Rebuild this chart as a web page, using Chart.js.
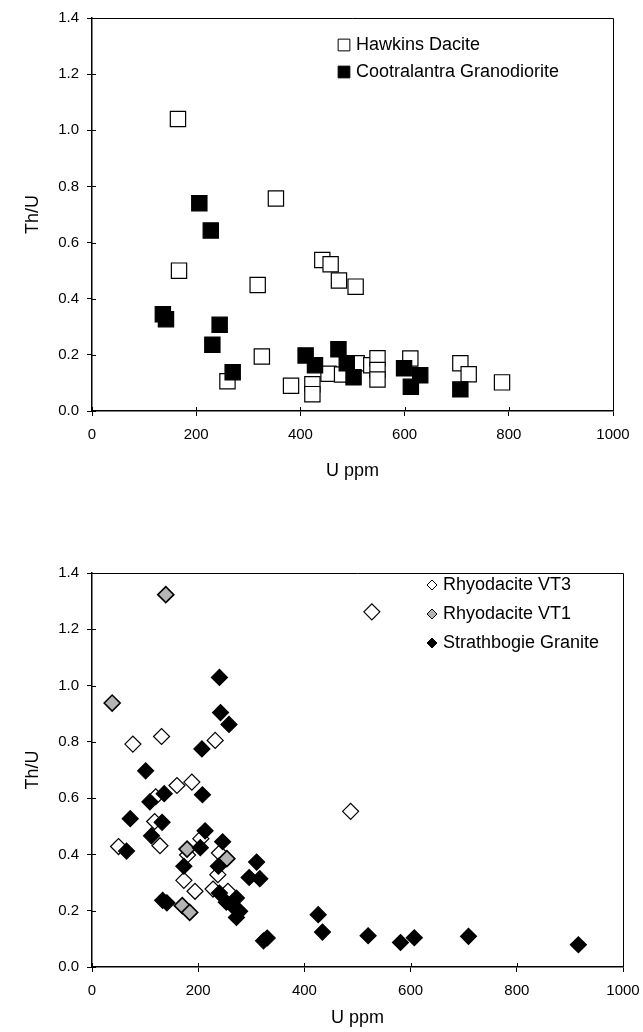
<!DOCTYPE html>
<html>
<head>
<meta charset="utf-8">
<script src="https://cdn.jsdelivr.net/npm/chart.js@4.4.0/dist/chart.umd.min.js"></script>
<style>
  html,body{margin:0;padding:0;background:#fff;}
  #wrap{position:relative;width:643px;height:1032px;overflow:hidden;}
  canvas{position:absolute;left:0;}
  #c1{top:0;}
  #c2{top:510px;}
</style>
</head>
<body>
<div id="wrap">
<canvas id="c1" width="643" height="510"></canvas>
<canvas id="c2" width="643" height="522"></canvas>
</div>
<script>
// ---------- DATA ----------
const xTicks = [0, 200, 400, 600, 800, 1000];
const yTicks = [0.0, 0.2, 0.4, 0.6, 0.8, 1.0, 1.2, 1.4];

// Top chart
const hawkinsU   = [165, 167, 353, 318, 442, 458, 474, 506, 326, 260, 382, 423, 423, 454, 480, 508, 536, 548, 548, 548, 611, 707, 723, 787];
const hawkinsThU = [1.04, 0.50, 0.757, 0.449, 0.538, 0.523, 0.465, 0.443, 0.194, 0.106, 0.090, 0.095, 0.060, 0.133, 0.130, 0.170, 0.163, 0.188, 0.146, 0.112, 0.187, 0.170, 0.131, 0.102];

const cootU   = [206, 228, 136, 142, 245, 231, 270, 410, 428, 473, 489, 502, 599, 630, 612, 707];
const cootThU = [0.74, 0.643, 0.345, 0.327, 0.307, 0.236, 0.138, 0.198, 0.163, 0.220, 0.170, 0.120, 0.152, 0.127, 0.086, 0.077];

// Bottom chart
const vt3U   = [527, 77, 131, 232, 160, 188, 120, 118, 128, 50, 205, 240, 237, 173, 194, 228, 256, 487, 180];
const vt3ThU = [1.262, 0.792, 0.819, 0.805, 0.645, 0.657, 0.605, 0.517, 0.431, 0.428, 0.456, 0.405, 0.328, 0.308, 0.269, 0.277, 0.269, 0.553, 0.398];

const vt1U   = [139, 38, 179, 254, 170, 184];
const vt1ThU = [1.323, 0.938, 0.419, 0.385, 0.218, 0.194];

const strathU   = [240, 242, 258, 207, 101, 208, 109, 136, 72, 132, 112, 65, 213, 204, 246, 238, 173, 310, 296, 316, 133, 141, 240, 253, 272, 266, 278, 272, 323, 330, 426, 434, 520, 581, 607, 709, 916];
const strathThU = [1.029, 0.904, 0.862, 0.775, 0.697, 0.612, 0.587, 0.616, 0.527, 0.514, 0.466, 0.412, 0.484, 0.424, 0.445, 0.358, 0.358, 0.373, 0.318, 0.314, 0.237, 0.228, 0.263, 0.230, 0.245, 0.215, 0.198, 0.176, 0.093, 0.103, 0.186, 0.124, 0.111, 0.087, 0.104, 0.109, 0.079];

const topLabels = ['Hawkins Dacite', 'Cootralantra Granodiorite'];
const botLabels = ['Rhyodacite VT3', 'Rhyodacite VT1', 'Strathbogie Granite'];

// ---------- HELPERS ----------
const FONT = "'Liberation Sans', Arial, Helvetica, sans-serif";
const pts = (xs, ys) => xs.map((v, i) => ({x: v, y: ys[i]}));

function drawMarker(ctx, style, x, y, r, fill, stroke, lw) {
  ctx.save();
  ctx.beginPath();
  if (style === 'rect') {
    const s = r * Math.SQRT1_2;
    ctx.rect(x - s, y - s, 2 * s, 2 * s);
  } else {
    ctx.moveTo(x, y - r); ctx.lineTo(x + r, y); ctx.lineTo(x, y + r); ctx.lineTo(x - r, y); ctx.closePath();
  }
  ctx.fillStyle = fill; ctx.fill();
  ctx.lineWidth = lw; ctx.strokeStyle = stroke; ctx.stroke();
  ctx.restore();
}

const framePlugin = {
  id: 'frame',
  afterDraw(chart) {
    const {ctx, chartArea: a, scales: {x, y}} = chart;
    ctx.save();
    ctx.strokeStyle = '#000';
    ctx.lineWidth = 1;
    ctx.beginPath();
    ctx.moveTo(a.left, a.top + 0.5);
    ctx.lineTo(a.right + 0.5, a.top + 0.5);
    ctx.lineTo(a.right + 0.5, a.bottom);
    ctx.stroke();
    ctx.beginPath();
    x.ticks.forEach(t => { const p = Math.round(x.getPixelForValue(t.value)) + 0.5; ctx.moveTo(p, a.bottom); ctx.lineTo(p, a.bottom - 4); });
    y.ticks.forEach(t => { const p = Math.round(y.getPixelForValue(t.value)) + 0.5; ctx.moveTo(a.left, p); ctx.lineTo(a.left + 4, p); });
    ctx.stroke();
    ctx.restore();
  }
};

const legendPlugin = {
  id: 'inlegend',
  afterDraw(chart, args, opts) {
    const ctx = chart.ctx;
    ctx.save();
    ctx.font = opts.fontSize + 'px ' + FONT;
    ctx.textBaseline = 'middle';
    ctx.fillStyle = '#000';
    chart.data.datasets.forEach((ds, i) => {
      const yy = opts.y0 + i * opts.dy;
      drawMarker(ctx, ds.pointStyle, opts.mx, yy, opts.mr, ds.backgroundColor, ds.borderColor, 1);
      ctx.fillStyle = '#000';
      ctx.fillText(ds.label, opts.tx, yy);
    });
    ctx.restore();
  }
};

function axes(xh, titlePadX) {
  return {
    x: {
      type: 'linear', min: 0, max: 1000,
      afterBuildTicks: s => { s.ticks = xTicks.map(v => ({value: v})); },
      afterFit: s => { s.height = xh; s.paddingLeft = 0; s.paddingRight = 0; },
      ticks: { color: '#000', font: {family: FONT, size: 15}, padding: 10, callback: v => String(v) },
      grid: { drawOnChartArea: false, drawTicks: true, tickLength: 5, color: '#000', lineWidth: 1 },
      border: { color: '#000', width: 1.5 },
      title: { display: true, text: 'U ppm', color: '#000', font: {family: FONT, size: 18}, padding: {top: titlePadX, bottom: titlePadX} }
    },
    y: {
      type: 'linear', min: 0, max: 1.4,
      afterBuildTicks: s => { s.ticks = yTicks.map(v => ({value: v})); },
      afterFit: s => { s.width = 92; },
      ticks: { color: '#000', font: {family: FONT, size: 15}, padding: 8, callback: v => Number(v).toFixed(1) },
      grid: { drawOnChartArea: false, drawTicks: true, tickLength: 5, color: '#000', lineWidth: 1 },
      border: { color: '#000', width: 1.5 },
      title: { display: true, text: 'Th/U', color: '#000', font: {family: FONT, size: 18}, padding: {top: 22, bottom: 22} }
    }
  };
}

function baseOptions(pad, xh, titlePadX, legendOpts) {
  return {
    responsive: false, animation: false, devicePixelRatio: 1,
    layout: { padding: pad },
    scales: axes(xh, titlePadX),
    plugins: { legend: {display: false}, tooltip: {enabled: false}, inlegend: legendOpts },
    events: []
  };
}

// ---------- TOP CHART ----------
new Chart(document.getElementById('c1'), {
  type: 'scatter',
  data: {
    datasets: [
      { label: topLabels[0], data: pts(hawkinsU, hawkinsThU), pointStyle: 'rect', pointRadius: 10.8, order: 2,
        backgroundColor: '#ffffff', borderColor: '#000000', borderWidth: 1.2 },
      { label: topLabels[1], data: pts(cootU, cootThU), pointStyle: 'rect', pointRadius: 10.8, order: 1,
        backgroundColor: '#000000', borderColor: '#000000', borderWidth: 1.2 }
    ]
  },
  options: baseOptions({top: 18, right: 30, left: 0, bottom: 0}, 99, 28,
    {fontSize: 18, mx: 344, mr: 8.3, tx: 356, y0: 45, dy: 27}),
  plugins: [framePlugin, legendPlugin]
});

// ---------- BOTTOM CHART ----------
new Chart(document.getElementById('c2'), {
  type: 'scatter',
  data: {
    datasets: [
      { label: botLabels[0], data: pts(vt3U, vt3ThU), pointStyle: 'rectRot', pointRadius: 8, order: 3,
        backgroundColor: '#ffffff', borderColor: '#000000', borderWidth: 1.2 },
      { label: botLabels[1], data: pts(vt1U, vt1ThU), pointStyle: 'rectRot', pointRadius: 8, order: 2,
        backgroundColor: '#b4b4b4', borderColor: '#000000', borderWidth: 1.6 },
      { label: botLabels[2], data: pts(strathU, strathThU), pointStyle: 'rectRot', pointRadius: 8, order: 1,
        backgroundColor: '#000000', borderColor: '#000000', borderWidth: 1.2 }
    ]
  },
  options: baseOptions({top: 63, right: 20, left: 0, bottom: 0}, 65, 3,
    {fontSize: 18, mx: 432, mr: 5, tx: 443, y0: 75, dy: 29}),
  plugins: [framePlugin, legendPlugin]
});
</script>
</body>
</html>
